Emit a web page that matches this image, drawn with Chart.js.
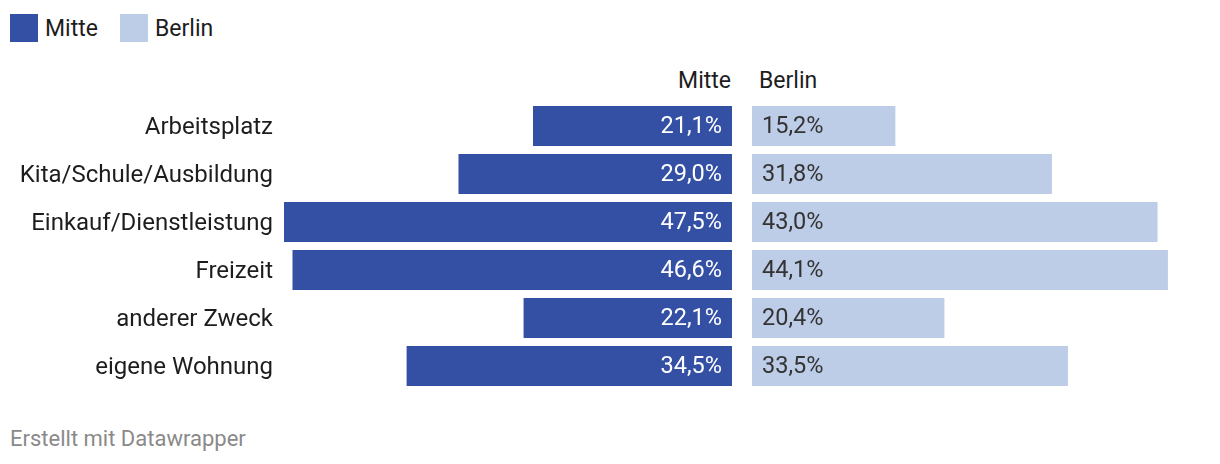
<!DOCTYPE html>
<html>
<head>
<meta charset="utf-8">
<script src="https://cdn.jsdelivr.net/npm/chart.js@4"></script>
<style>
  html, body { margin: 0; padding: 0; background: #fff; width: 1220px; height: 464px; overflow: hidden; font-family: Roboto, "Noto Sans", sans-serif; color: #1d1d1d; }
  .abs { position: absolute; }
  .legend-item { position: absolute; top: 14px; height: 28px; display: flex; align-items: center; font-size: 23px; }
  .sw { width: 28px; height: 28px; margin-right: 7px; }
  .head { position: absolute; top: 69px; font-size: 23px; line-height: 24px; }
  #foot { position: absolute; left: 10px; top: 427px; font-size: 22px; line-height: 24px; color: #8a8a8a; }
</style>
</head>
<body>
<div class="legend-item" style="left:10px"><div class="sw" style="background:#3450a4"></div>Mitte</div>
<div class="legend-item" style="left:120px"><div class="sw" style="background:#bdcde7"></div>Berlin</div>
<div class="head" style="right:489px; text-align:right;">Mitte</div>
<div class="head" style="left:759px;">Berlin</div>
<div class="abs" style="left:0; top:102px; width:732px; height:288px;"><canvas id="left"></canvas></div>
<div class="abs" style="left:752px; top:102px; width:448px; height:288px;"><canvas id="right"></canvas></div>
<div id="foot">Erstellt mit Datawrapper</div>
<script>
const categories = ["Arbeitsplatz", "Kita/Schule/Ausbildung", "Einkauf/Dienstleistung", "Freizeit", "anderer Zweck", "eigene Wohnung"];
const mitte = [21.1, 29.0, 47.5, 46.6, 22.1, 34.5];
const berlin = [15.2, 31.8, 43.0, 44.1, 20.4, 33.5];
const seriesNames = ["Mitte", "Berlin"];
const colors = ["#3450a4", "#bdcde7"];

const maxVal = Math.max(...mitte, ...berlin);
const fmt = v => v.toFixed(1).replace('.', ',') + '%';
const FONT = 'Roboto, "Noto Sans", sans-serif';

function valueLabels(side) {
  return {
    id: 'valueLabels' + side,
    afterDatasetsDraw(chart) {
      const ctx = chart.ctx;
      const meta = chart.getDatasetMeta(0);
      const data = chart.data.datasets[0].data;
      ctx.save();
      ctx.font = '23.5px ' + FONT;
      ctx.textBaseline = 'middle';
      meta.data.forEach((el, i) => {
        const p = el.getProps(['x', 'y', 'base'], true);
        if (side === 'left') {
          ctx.fillStyle = '#ffffff';
          ctx.textAlign = 'right';
          ctx.fillText(fmt(data[i]), p.base - 10, p.y + 1.5);
        } else {
          ctx.fillStyle = '#333333';
          ctx.textAlign = 'left';
          ctx.fillText(fmt(data[i]), p.base + 10, p.y + 1.5);
        }
      });
      ctx.restore();
    }
  };
}

function makeChart(id, values, color, side) {
  return new Chart(document.getElementById(id), {
    type: 'bar',
    data: {
      labels: categories,
      datasets: [{
        label: side === 'left' ? seriesNames[0] : seriesNames[1],
        data: values,
        backgroundColor: color,
        borderWidth: 0,
        categoryPercentage: 1,
        barPercentage: 40 / 48
      }]
    },
    options: {
      indexAxis: 'y',
      responsive: true,
      maintainAspectRatio: false,
      animation: false,
      layout: { padding: 0 },
      plugins: { legend: { display: false }, tooltip: { enabled: false } },
      scales: {
        x: {
          display: false,
          min: 0,
          max: maxVal,
          reverse: side === 'left'
        },
        y: {
          display: side === 'left',
          grid: { display: false, drawTicks: false },
          border: { display: false },
          ticks: {
            padding: 11,
            labelOffset: 1.5,
            color: '#1d1d1d',
            font: { family: FONT, size: 24 }
          },
          afterFit(scale) {
            if (side === 'left') scale.width = 284;
            scale.paddingTop = 0;
            scale.paddingBottom = 0;
          }
        }
      }
    },
    plugins: [valueLabels(side)]
  });
}

makeChart('left', mitte, colors[0], 'left');
makeChart('right', berlin, colors[1], 'right');
</script>
</body>
</html>
